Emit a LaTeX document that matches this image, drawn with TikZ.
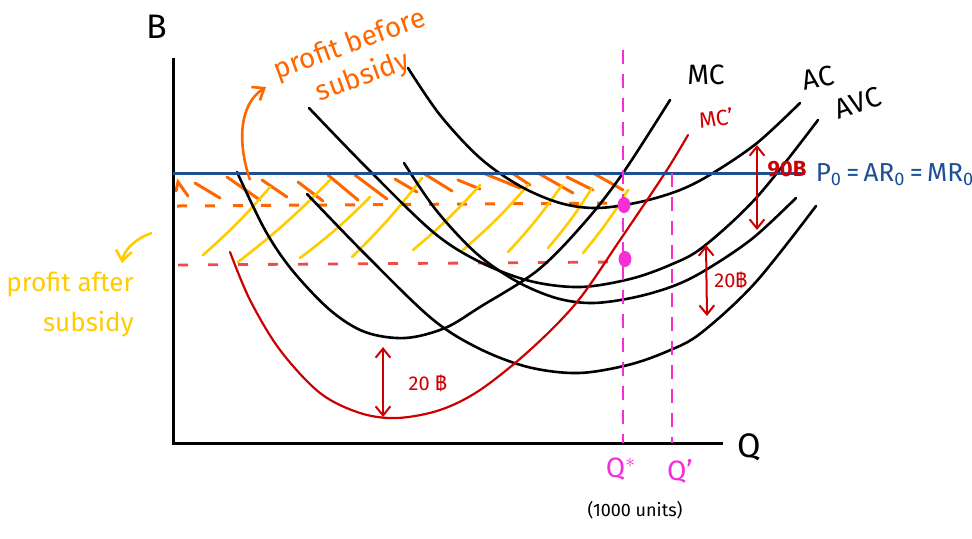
\documentclass[tikz,border=0pt]{standalone}
\usepackage{fontspec}
\setmainfont{Fira Sans}
\newfontfamily\thaifont[Script=Thai]{Loma}
\usepackage{tikz}
\usetikzlibrary{arrows.meta}
\definecolor{inkblue}{HTML}{1C4F94}
\definecolor{redx}{HTML}{CC0000}
\definecolor{dashred}{HTML}{EE4B4B}
\definecolor{orangex}{HTML}{FF6600}
\definecolor{yellowx}{HTML}{FFCC00}
\definecolor{pinkx}{HTML}{F52ED6}
\tikzset{
  curve/.style={line width=1.3pt,line cap=round},
  hato/.style={line width=1.5pt,orangex,line cap=round},
  haty/.style={line width=1.3pt,yellowx,line cap=round},
  gap/.style={{Straight Barb[length=1.6mm,width=2.6mm]}-{Straight Barb[length=1.6mm,width=2.6mm]},line width=1pt,redx},
  qline/.style={pinkx,line width=1.3pt,dash pattern=on 7pt off 5pt},
  lbl/.style={inner sep=1pt,font=\fontsize{14}{16}\selectfont}
}
\newcommand{\baht}{{\thaifont ฿}}
\newcommand{\accurve}[1]{\draw[curve,#1] plot[smooth,tension=0.55] coordinates {(408,68) (440,115) (480,158) (520,186) (560,203) (597,208) (640,202) (680,190) (713,173) (757,143) (800,103)};}
\newcommand{\avccurve}[1]{\draw[curve,#1] plot[smooth,tension=0.55] coordinates {(309,108) (367,168) (433,232) (480,262) (530,281) (580,287) (630,279) (670,265) (703,247) (757,197) (818,120)};}

\begin{document}
\begin{tikzpicture}[x=0.5pt,y=-0.5pt]
\useasboundingbox (0,0) rectangle (972,538);
% hatching
\foreach \xa/\ya/\xb/\yb in {195/183/220/198, 227/177/260/200, 262/180/287/197, 298/182/323/201, 328/175/358/200, 355/175/387/199, 395/179/417/192, 423/173/452/191, 458/180/480/189, 483/173/520/188, 512/173/530/185, 538/173/573/193, 567/177/593/190, 593/173/623/190}
  \draw[hato] (\xa,\ya) -- (\xb,\yb);
\draw[hato] (176,191) -- (178,182) -- (188,196);
\draw[orangex,line width=1.5pt,dash pattern=on 5pt off 9pt] (177,206) -- (618,203);
\foreach \xa/\ya/\xb/\yb in {203/255/270/187, 238/262/330/180, 300/258/370/197, 352/257/422/178, 413/250/480/185, 463/250/528/185, 508/252/562/185, 548/248/592/188, 583/253/628/190}
  \draw[haty] (\xa,\ya) to[bend right=4] (\xb,\yb);
\draw[dashred,line width=1.4pt,dash pattern=on 5pt off 10pt] (178,265) -- (618,262);
% axes
\draw[line width=1.5pt] (173,58) -- (173,443) -- (723,443);
\node[lbl,font=\fontsize{17}{17}\selectfont] (bax) at (157,27) {B};
\node[lbl,font=\fontsize{17}{17}\selectfont] (qax) at (749,447) {Q};
% cost curves
\accurve{}
\accurve{shift={(-4,95)}}
\avccurve{}
\avccurve{shift={(-2,86)}}
\draw[curve] plot[smooth,tension=0.55] coordinates {(237,172) (265,230) (292,270) (330,310) (365,332) (405,338) (445,328) (480,307) (538,270) (585,222) (623,173) (670,100)};
\draw[curve,redx,line width=1.1pt] plot[smooth,tension=0.55] coordinates {(230,252) (250,300) (280,350) (320,393) (360,413) (397,418) (440,410) (480,390) (530,350) (577,302) (620,240) (665,173) (688,135)};
\node[lbl] (mc) at (706,75) {MC};
\node[lbl,rotate=12] (ac) at (818,78) {AC};
\node[lbl,rotate=18] (avc) at (858,103) {AVC};
\node[lbl,text=redx,rotate=8,font=\fontsize{11}{12}\selectfont] (mcp) at (716,118) {MC'};
% price line
\draw[inkblue,line width=1.5pt] (173,173) -- (805,173);
\node[lbl,text=inkblue,font=\fontsize{13}{14}\selectfont] (price) at (895,175) {P\textsubscript{0}\,=\,AR\textsubscript{0}\,=\,MR\textsubscript{0}};
% quantities
\coordinate (qstartop) at (623,50);
\coordinate (qstar) at (623,443);
\coordinate (qnewtop) at (672,173);
\coordinate (qnew) at (672,443);
\draw[qline] (qstartop) -- (qstar);
\draw[qline] (qnewtop) -- (qnew);
\fill[pinkx] (624,205) ellipse [x radius=3.2pt,y radius=4pt];
\fill[pinkx] (625,259) ellipse [x radius=3.2pt,y radius=4pt];
\node[lbl,text=pinkx] (qstarl) at (621,469) {Q$^*$};
\node[lbl,text=pinkx] (qnewl) at (680,471) {Q'};
\node[lbl,font=\fontsize{9}{10}\selectfont] (units) at (635,510) {(1000 units)};
% subsidy gaps
\coordinate (g1a) at (383,347); \coordinate (g1b) at (383,417);
\coordinate (g2a) at (757,145); \coordinate (g2b) at (757,230);
\coordinate (g3a) at (706,245); \coordinate (g3b) at (707,316);
\draw[gap] (g1a) -- (g1b);
\draw[gap] (g2a) -- (g2b);
\draw[gap] (g3a) -- (g3b);
\node[lbl,text=redx,font=\fontsize{10}{11}\selectfont] (g1l) at (428,383) {20 \baht};
\node[lbl,text=redx,font=\bfseries\fontsize{11}{12}\selectfont] (g2l) at (787,169) {90B};
\node[lbl,text=redx,font=\fontsize{10}{11}\selectfont] (g3l) at (731,280) {20\baht};
% profit notes
\node[lbl,text=orangex,rotate=20] (before) at (350,45) {profit before};
\node[lbl,text=orangex,rotate=20] (beforesub) at (363,77) {subsidy};
\coordinate (ofoot) at (250,180);
\coordinate (otip) at (266,87);
\draw[orangex,line width=1.3pt,-{Straight Barb[length=1.8mm,width=2.8mm]}] (ofoot) .. controls (238,145) and (238,105) .. (otip);
\node[lbl,text=yellowx,align=right,font=\fontsize{13}{20}\selectfont] (after) at (70,305) {profit after\\subsidy};
\coordinate (yfoot) at (152,233);
\coordinate (ytip) at (122,263);
\draw[yellowx,line width=1.3pt,-{Straight Barb[length=1.8mm,width=2.8mm]}] (yfoot) .. controls (136,238) and (124,250) .. (ytip);
\end{tikzpicture}
\end{document}
